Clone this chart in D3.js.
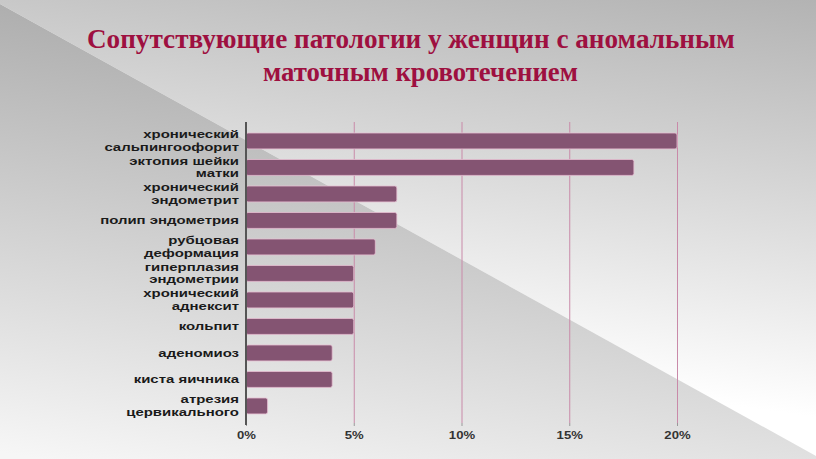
<!DOCTYPE html>
<html><head><meta charset="utf-8">
<script src="https://cdn.jsdelivr.net/npm/d3@7"></script>
<style>html,body{margin:0;padding:0;overflow:hidden;background:#fff}
.lbl{font-family:"Liberation Sans",Arial,sans-serif;font-weight:bold;}
</style>
</head><body><svg id="c" width="816" height="459"></svg>
<script>
const titleLines = ["Сопутствующие патологии у женщин с аномальным", "маточным кровотечением"];
const categories = [
  "хронический\nсальпингоофорит",
  "эктопия шейки\nматки",
  "хронический\nэндометрит",
  "полип эндометрия",
  "рубцовая\nдеформация",
  "гиперплазия\nэндометрии",
  "хронический\nаднексит",
  "кольпит",
  "аденомиоз",
  "киста яичника",
  "атрезия\nцервикального"
];
const values = [20, 18, 7, 7, 6, 5, 5, 5, 4, 4, 1];
const tickValues = [0, 5, 10, 15, 20];

const svg = d3.select("#c");
const defs = svg.append("defs");
const gU = defs.append("linearGradient").attr("id","gU").attr("gradientUnits","userSpaceOnUse")
  .attr("x1",816).attr("y1",0).attr("x2",757).attr("y2",409);
gU.append("stop").attr("offset",0).attr("stop-color","#b3b3b3");
gU.append("stop").attr("offset",1).attr("stop-color","#ffffff");
const gL = defs.append("linearGradient").attr("id","gL").attr("gradientUnits","userSpaceOnUse")
  .attr("x1",0).attr("y1",0).attr("x2",-76).attr("y2",439);
gL.append("stop").attr("offset",0).attr("stop-color","#aeaeae");
gL.append("stop").attr("offset",1).attr("stop-color","#f6f6f6");

svg.append("polygon").attr("points","0,0 816,0 816,456 0,4").attr("fill","url(#gU)");
svg.append("polygon").attr("points","0,4 816,456 816,459 0,459").attr("fill","url(#gL)");

// title (scaled horizontally to the reference width)
const tpos = [[87,48,648],[263,81,315]];
titleLines.forEach((s,i)=>{
  const t = svg.append("text").attr("x",0).attr("y",0)
    .style("font-family",'"Liberation Serif"').style("font-weight","bold").style("font-size","28px")
    .attr("fill","#9e1040").text(s);
  const w = t.node().getComputedTextLength();
  const sx = w > 0 ? tpos[i][2]/w : 1;
  t.attr("transform",`translate(${tpos[i][0]},${tpos[i][1]}) scale(${sx},1)`);
});

const x = d3.scaleLinear().domain([0,20]).range([246,677]);
const y = d3.scaleBand().domain(categories).range([127.7,419.2]).paddingInner(0.4).paddingOuter(0.2);
const gridTop = 122, gridBottom = 423;

// grid via axis
const ax = svg.append("g").attr("transform",`translate(0,${gridBottom})`)
  .call(d3.axisBottom(x).tickValues(tickValues).tickFormat(d=>d+"%").tickSize(-(gridBottom-gridTop)).tickPadding(0));
ax.select(".domain").remove();
ax.selectAll(".tick line").attr("stroke","#c98aa9").attr("stroke-width",1);
ax.selectAll(".tick text").attr("class","lbl").attr("y",0).attr("dy",0)
  .attr("transform","translate(0,16) scale(1.25,1)")
  .attr("font-size",10.5).attr("fill","#333");
ax.selectAll(".tick").append("line").attr("y1",0).attr("y2",3).attr("stroke","#999");

// bars
svg.append("g").selectAll("rect").data(values).join("rect")
  .attr("x", x(0))
  .attr("y",(d,i)=>y(categories[i]))
  .attr("width",d=>x(d)-x(0))
  .attr("height",y.bandwidth())
  .attr("rx",2)
  .attr("fill","#845472")
  .attr("stroke","#e6bfd2").attr("stroke-width",0.8);

// y axis line
svg.append("line").attr("x1",x(0)).attr("x2",x(0)).attr("y1",gridTop).attr("y2",gridBottom+2)
  .attr("stroke","#555").attr("stroke-width",2);

// labels
const lab = svg.append("g").attr("class","lbl")
  .attr("font-size",11.5).attr("fill","#1a1a1a").attr("text-anchor","end");
categories.forEach(c=>{
  const lines = c.split("\n");
  const cy = y(c)+y.bandwidth()/2;
  const t = lab.append("text").attr("transform",`translate(239,0) scale(1.3,1)`);
  lines.forEach((ln,j)=>{
    const off = lines.length===1 ? 4 : (j===0 ? -2.8 : 10);
    t.append("tspan").attr("x",0).attr("y",cy+off).text(ln);
  });
});
</script></body></html>
